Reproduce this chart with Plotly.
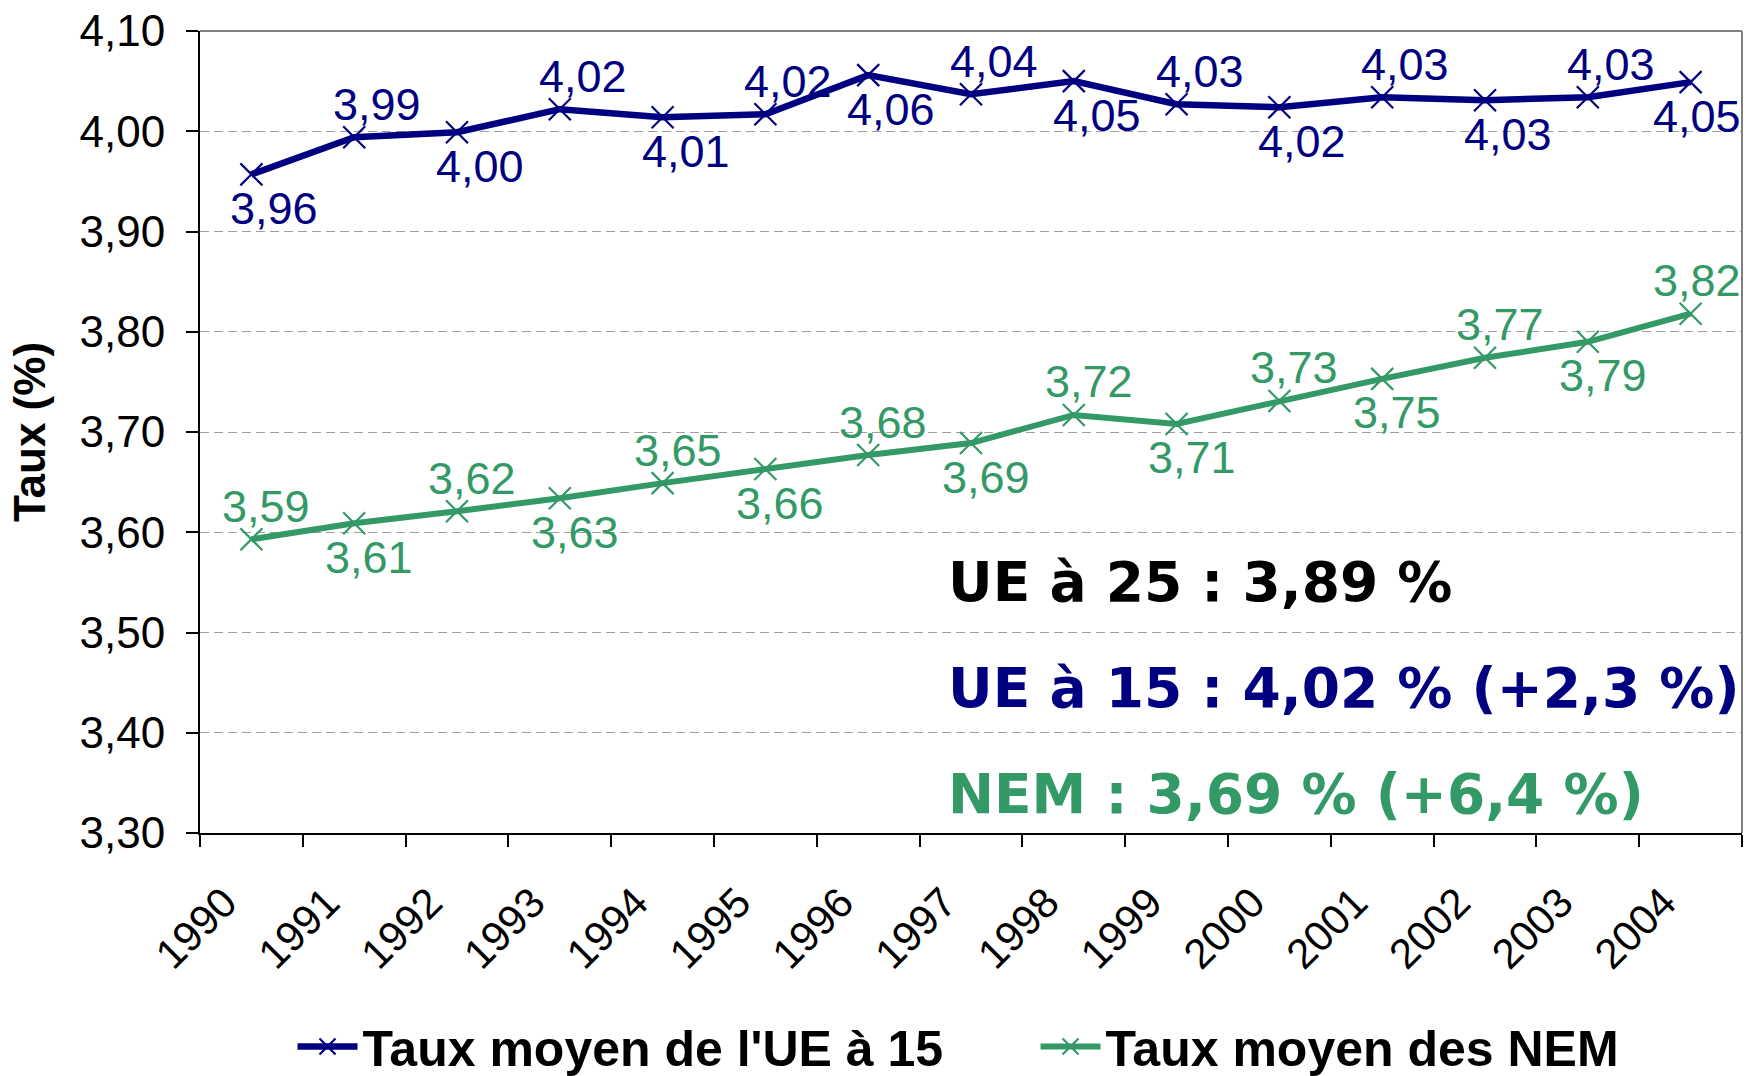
import plotly.graph_objects as go

# ---------------- data ----------------
years = ["1990", "1991", "1992", "1993", "1994", "1995", "1996", "1997",
         "1998", "1999", "2000", "2001", "2002", "2003", "2004"]
ue15 = [3.957, 3.994, 3.999, 4.022, 4.014, 4.017, 4.056, 4.037,
        4.050, 4.027, 4.024, 4.034, 4.031, 4.034, 4.049]
nem = [3.593, 3.609, 3.621, 3.634, 3.649, 3.663, 3.677, 3.689,
       3.717, 3.708, 3.731, 3.753, 3.774, 3.790, 3.818]
ue15_label_side = ["below", "above", "below", "above", "below", "above", "below", "above",
                   "below", "above", "below", "above", "below", "above", "below"]
nem_label_side = ["above", "below", "above", "below", "above", "below", "above", "below",
                  "above", "below", "above", "below", "above", "below", "above"]
series_names = ["Taux moyen de l'UE à 15", "Taux moyen des NEM"]
summary_lines = ["UE à 25 : 3,89 %", "UE à 15 : 4,02 % (+2,3 %)", "NEM : 3,69 % (+6,4 %)"]
summary_y = [3.5505, 3.4447, 3.339]
y_ticks = [3.30, 3.40, 3.50, 3.60, 3.70, 3.80, 3.90, 4.00, 4.10]

BLUE = "#000080"
GREEN = "#339966"
summary_colors = ["#000000", BLUE, GREEN]

fig = go.Figure()

traces_cfg = [(ue15, series_names[0], BLUE, 6.5, 668), (nem, series_names[1], GREEN, 6, None)]
for vals, name, color, width, lw in traces_cfg:
    tr = dict(
        x=years, y=vals, name=name, mode="lines+markers",
        line=dict(color=color, width=width),
        marker=dict(symbol="x-thin", size=22, line=dict(color=color, width=2.2)),
        cliponaxis=False,
    )
    if lw:
        tr["legendwidth"] = lw
    fig.add_trace(go.Scatter(**tr))

annotations = []
for vals, sides, color, xs in [(ue15, ue15_label_side, BLUE, 23), (nem, nem_label_side, GREEN, 15)]:
    n = len(vals)
    for i, (v, s) in enumerate(zip(vals, sides)):
        annotations.append(dict(
            x=i, y=v, xref="x", yref="y", text=f"{v:.2f}".replace(".", ","),
            showarrow=False, xshift=(xs if i < n - 1 else 6),
            yshift=(33 if s == "above" else -34),
            font=dict(family="Liberation Sans, Arial, sans-serif", size=45, color=color),
        ))

for txt, yy, col in zip(summary_lines, summary_y, summary_colors):
    annotations.append(dict(
        x=0.4838, y=yy, xref="paper", yref="y", text=f"<b>{txt}</b>",
        showarrow=False, xanchor="left", yanchor="middle",
        font=dict(family="DejaVu Sans, sans-serif", size=55, color=col),
    ))

fig.update_layout(
    width=1746, height=1076,
    margin=dict(l=200, r=4, t=31, b=243),
    paper_bgcolor="white", plot_bgcolor="white",
    separators=", ",
    font=dict(family="Liberation Sans, Arial, sans-serif", color="black"),
    showlegend=True,
    legend=dict(
        orientation="h", x=0.06, xanchor="left",
        yref="container", y=0.0275, yanchor="middle",
        font=dict(family="Liberation Sans, Arial, sans-serif", size=50, color="black", weight="bold"),
        itemwidth=60, bgcolor="rgba(0,0,0,0)",
    ),
    annotations=annotations,
    shapes=[
        dict(type="line", xref="paper", yref="paper", x0=0, x1=1, y0=1, y1=1,
             line=dict(color="#808080", width=2), layer="above"),
        dict(type="line", xref="paper", yref="paper", x0=1, x1=1, y0=0, y1=1,
             line=dict(color="#808080", width=2), layer="above"),
    ],
)

fig.update_yaxes(
    range=[3.30, 4.10], tickvals=y_ticks, tickformat=".2f", automargin=False,
    showgrid=True, gridcolor="#a0a0a0", gridwidth=1.2, griddash="9px,5px",
    showline=True, linecolor="black", linewidth=2,
    ticks="outside", ticklen=12, tickcolor="black", tickwidth=1.5,
    tickfont=dict(size=44, color="black"), ticklabelstandoff=12,
    zeroline=False,
    title=dict(text="<b>Taux (%)</b>", font=dict(size=44, color="black"), standoff=20),
)
fig.update_xaxes(
    type="category", range=[-0.5, 14.5], tickson="boundaries", automargin=False,
    showgrid=False, showline=True, linecolor="black", linewidth=2,
    ticks="outside", ticklen=12, tickcolor="black", tickwidth=1.5,
    tickangle=-45, tickfont=dict(size=42, color="black"),
    ticklabelstandoff=26, ticklabelshift=-27,
)

fig.write_html("out.html", config={"displayModeBar": False},
               post_script="document.body.style.margin='0';document.body.style.overflow='hidden';")
